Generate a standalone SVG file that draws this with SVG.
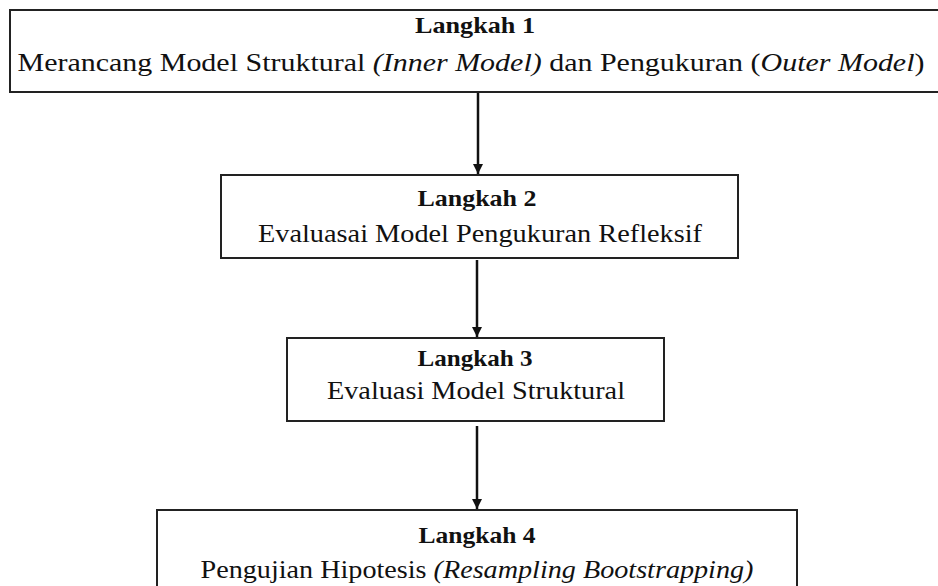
<svg xmlns="http://www.w3.org/2000/svg" width="938" height="586" viewBox="0 0 938 586">
<defs>
<style>
.box{fill:#fff;stroke:#222;stroke-width:2}
.t{font-family:"Liberation Serif","Times New Roman",serif;fill:#111;text-anchor:middle}
.h{font-size:24px;font-weight:bold}
.s{font-size:26px}
.i{font-style:italic}
.c{stroke:#111;stroke-width:2.5;fill:none}
</style>
<marker id="ah" viewBox="0 0 10 10" refX="10" refY="5" markerWidth="4.4" markerHeight="4" orient="auto" markerUnits="strokeWidth">
<path d="M0,0 L10,5 L0,10 Z" fill="#111"/>
</marker>
</defs>
<rect width="938" height="586" fill="#fff"/>
<g id="connectors">
<line class="c" x1="478" y1="93" x2="478" y2="174" marker-end="url(#ah)"/>
<line class="c" x1="477" y1="260" x2="477" y2="337" marker-end="url(#ah)"/>
<line class="c" x1="477" y1="426" x2="477" y2="509" marker-end="url(#ah)"/>
</g>
<g id="step1">
<rect class="box" x="10" y="10" width="932" height="82"/>
<text class="t h" x="475" y="33" textLength="120" lengthAdjust="spacingAndGlyphs">Langkah 1</text>
<text class="t s" x="471" y="71" textLength="907" lengthAdjust="spacingAndGlyphs">Merancang Model Struktural <tspan class="i">(Inner Model)</tspan> dan Pengukuran (<tspan class="i">Outer Model</tspan>)</text>
</g>
<g id="step2">
<rect class="box" x="221" y="175" width="517" height="83"/>
<text class="t h" x="477" y="206" textLength="119" lengthAdjust="spacingAndGlyphs">Langkah 2</text>
<text class="t s" x="480" y="242" textLength="444" lengthAdjust="spacingAndGlyphs">Evaluasai Model Pengukuran Refleksif</text>
</g>
<g id="step3">
<rect class="box" x="287" y="338" width="377" height="83"/>
<text class="t h" x="475" y="366" textLength="115" lengthAdjust="spacingAndGlyphs">Langkah 3</text>
<text class="t s" x="476" y="399" textLength="298" lengthAdjust="spacingAndGlyphs">Evaluasi Model Struktural</text>
</g>
<g id="step4">
<rect class="box" x="157" y="510" width="640" height="90"/>
<text class="t h" x="477" y="543" textLength="117" lengthAdjust="spacingAndGlyphs">Langkah 4</text>
<text class="t s" x="477" y="578" textLength="553" lengthAdjust="spacingAndGlyphs">Pengujian Hipotesis <tspan class="i">(Resampling Bootstrapping)</tspan></text>
</g>
</svg>
